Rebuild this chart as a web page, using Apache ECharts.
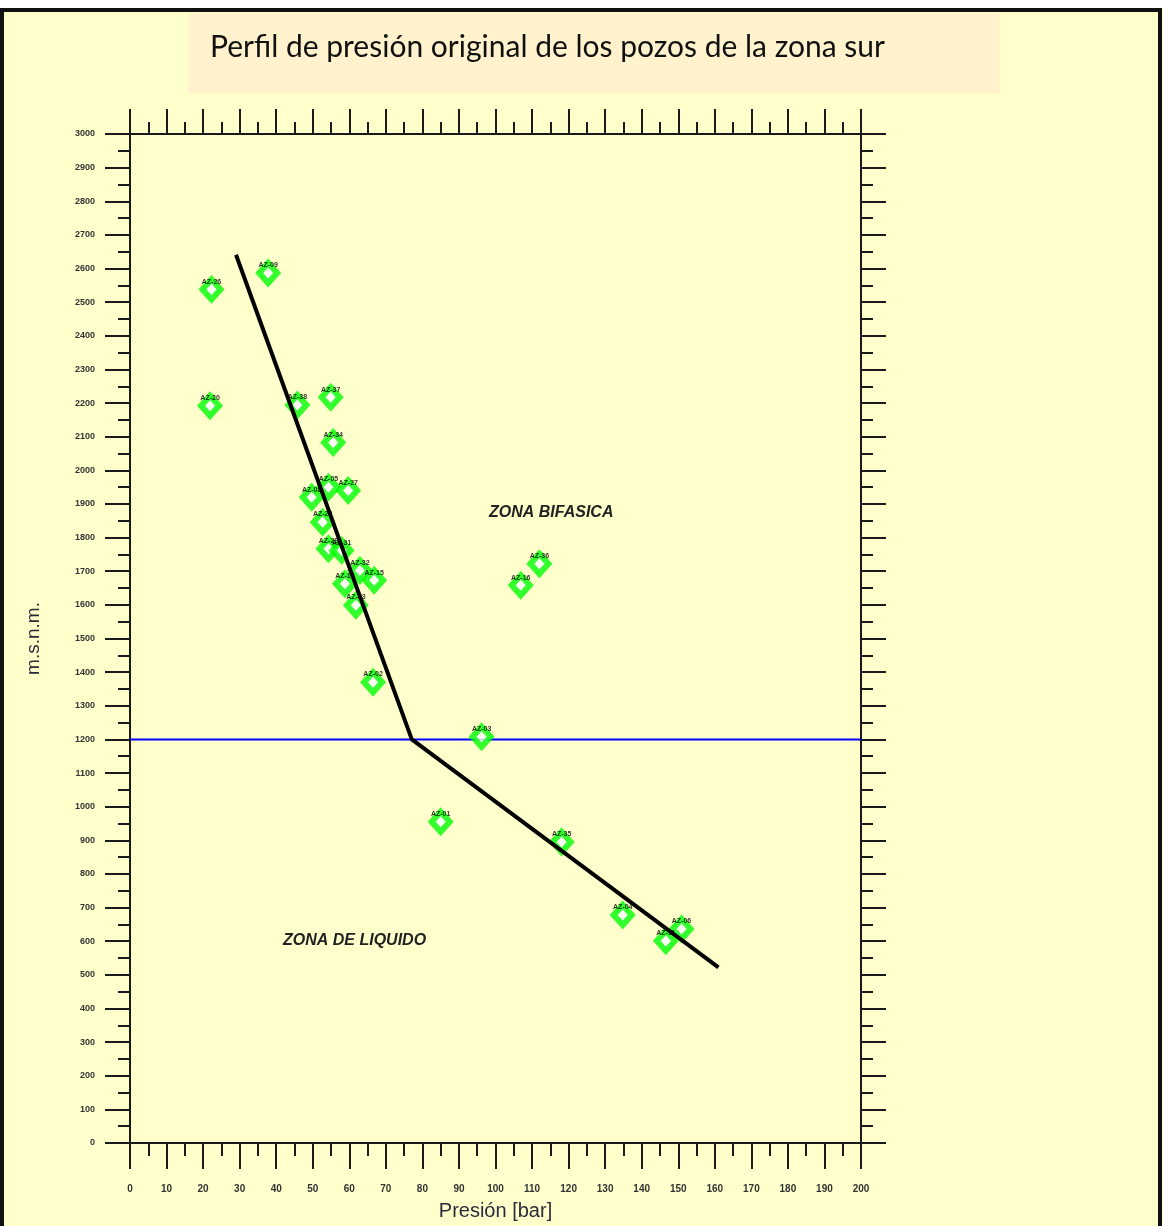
<!DOCTYPE html>
<html>
<head>
<meta charset="utf-8">
<title>Perfil de presión original</title>
<script src="https://cdn.jsdelivr.net/npm/echarts@6/dist/echarts.min.js"></script>
<style>
  html, body { margin: 0; padding: 0; background: #ffffff; }
  #chart { width: 1163px; height: 1226px; }
</style>
</head>
<body>
<div id="chart"></div>
<script>
// Well names, pressure [bar] and elevation [m.s.n.m.]
const wellNames = ['AZ-26', 'AZ-09', 'AZ-20', 'AZ-38', 'AZ-37', 'AZ-34', 'AZ-05', 'AZ-27',
  'AZ-08', 'AZ-23', 'AZ-28', 'AZ-31', 'AZ-32', 'AZ-15', 'AZ-19', 'AZ-33', 'AZ-02',
  'AZ-16', 'AZ-36', 'AZ-03', 'AZ-01', 'AZ-35', 'AZ-04', 'AZ-11', 'AZ-06'];
const wellPressure = [22.3, 37.8, 21.9, 45.8, 54.9, 55.6, 54.3, 59.7,
  49.7, 52.7, 54.3, 57.9, 62.9, 66.8, 58.8, 61.8, 66.5,
  106.9, 112.0, 96.2, 85.0, 118.1, 134.8, 146.6, 150.9];
const wellElevation = [2538, 2587, 2192, 2194, 2217, 2083, 1950, 1940,
  1920, 1846, 1767, 1762, 1702, 1673, 1663, 1599, 1370,
  1658, 1722, 1208, 955, 895, 678, 601, 636];

// Pressure gradient trend (two-phase above, liquid below)
const trendPressure = [29.0, 77.1, 161.0];
const trendElevation = [2641, 1200, 522];

// Boiling / phase boundary level
const boundaryPressure = [0, 200];
const boundaryElevation = [1200, 1200];

const xTicksMax = 200;
const yTicksMax = 3000;

const wells = wellNames.map((n, i) => ({ name: n, value: [wellPressure[i], wellElevation[i]] }));
const trend = trendPressure.map((p, i) => [p, trendElevation[i]]);
const boundary = boundaryPressure.map((p, i) => [p, boundaryElevation[i]]);

const axisLineStyle = { color: '#1a1a1a', width: 2 };
const tickLabelFont = {
  fontFamily: '"Liberation Sans Narrow", "Liberation Sans", Arial, sans-serif',
  fontWeight: 'bold', fontSize: 10, color: '#333333',
  formatter: v => String(v)
};

const chart = echarts.init(document.getElementById('chart'), null, { renderer: 'canvas' });

chart.setOption({
  backgroundColor: '#FFFFCC',
  animation: false,
  grid: { left: 130, right: 302, top: 134, bottom: 80 },
  graphic: [
    { type: 'rect', shape: { x: 0, y: 0, width: 1163, height: 8 }, style: { fill: '#ffffff' }, z: 0 },
    { type: 'rect', shape: { x: 2, y: 10, width: 1158, height: 1230 },
      style: { fill: 'none', stroke: '#111111', lineWidth: 4 }, z: 100 },
    { type: 'rect', shape: { x: 188, y: 13, width: 812, height: 81 }, style: { fill: '#FFF2CC' }, z: 1 },
    { type: 'text', left: 210, top: 32,
      style: { text: 'Perfil de presión original de los pozos de la zona sur',
        font: '30px Lato, "Open Sans", sans-serif', fill: '#111111' }, z: 2 },
    { type: 'text', left: 489, top: 505,
      style: { text: 'ZONA BIFASICA', font: 'italic bold 16px "Liberation Sans", Arial, sans-serif', fill: '#222222' }, z: 5 },
    { type: 'text', left: 283, top: 933,
      style: { text: 'ZONA DE LIQUIDO', font: 'italic bold 16px "Liberation Sans", Arial, sans-serif', fill: '#222222' }, z: 5 }
  ],
  xAxis: [
    {
      type: 'value', position: 'bottom', min: 0, max: xTicksMax, interval: 10,
      name: 'Presión [bar]', nameLocation: 'middle', nameGap: 58,
      nameTextStyle: { fontFamily: '"Liberation Sans", Arial, sans-serif', fontSize: 20, color: '#2a2a3a' },
      axisLine: { show: true, onZero: false, lineStyle: axisLineStyle },
      axisTick: { show: true, inside: false, length: 26, lineStyle: { color: '#1a1a1a', width: 2 } },
      minorTick: { show: true, splitNumber: 2, length: 13, lineStyle: { color: '#1a1a1a', width: 2 } },
      axisLabel: Object.assign({ margin: 41 }, tickLabelFont),
      splitLine: { show: false }
    },
    {
      type: 'value', position: 'top', min: 0, max: xTicksMax, interval: 10,
      axisLine: { show: true, onZero: false, lineStyle: axisLineStyle },
      axisTick: { show: true, inside: false, length: 25, lineStyle: { color: '#1a1a1a', width: 2 } },
      minorTick: { show: true, splitNumber: 2, length: 12, lineStyle: { color: '#1a1a1a', width: 2 } },
      axisLabel: { show: false },
      splitLine: { show: false }
    }
  ],
  yAxis: [
    {
      type: 'value', position: 'left', min: 0, max: yTicksMax, interval: 100,
      name: 'm.s.n.m.', nameLocation: 'middle', nameGap: 87,
      nameTextStyle: { fontFamily: '"Liberation Sans", Arial, sans-serif', fontSize: 19, color: '#2a2a3a' },
      axisLine: { show: true, onZero: false, lineStyle: axisLineStyle },
      axisTick: { show: true, inside: false, length: 25, lineStyle: { color: '#1a1a1a', width: 2 } },
      minorTick: { show: true, splitNumber: 2, length: 12, lineStyle: { color: '#1a1a1a', width: 2 } },
      axisLabel: Object.assign({ margin: 35 }, tickLabelFont, { fontSize: 9 }),
      splitLine: { show: false }
    },
    {
      type: 'value', position: 'right', min: 0, max: yTicksMax, interval: 100,
      axisLine: { show: true, onZero: false, lineStyle: axisLineStyle },
      axisTick: { show: true, inside: false, length: 25, lineStyle: { color: '#1a1a1a', width: 2 } },
      minorTick: { show: true, splitNumber: 2, length: 12, lineStyle: { color: '#1a1a1a', width: 2 } },
      axisLabel: { show: false },
      splitLine: { show: false }
    }
  ],
  series: [
    {
      name: 'Nivel 1200', type: 'line', data: boundary, xAxisIndex: 0, yAxisIndex: 0,
      showSymbol: false, symbol: 'none', z: 2,
      lineStyle: { color: '#0000FF', width: 2 }
    },
    {
      name: 'Pozos', type: 'scatter', data: wells, xAxisIndex: 0, yAxisIndex: 0, z: 3,
      symbol: 'diamond', symbolSize: [18, 20],
      itemStyle: { color: '#ffffff', borderColor: '#00FF00', borderWidth: 6 },
      label: {
        show: true, position: 'top', distance: -9, formatter: '{b}',
        fontSize: 7, fontWeight: 'bold', color: '#000000',
        fontFamily: '"Liberation Sans Narrow", Arial, sans-serif'
      }
    },
    {
      name: 'Gradiente', type: 'line', data: trend, xAxisIndex: 0, yAxisIndex: 0,
      showSymbol: false, symbol: 'none', z: 4,
      lineStyle: { color: '#000000', width: 4 }
    }
  ]
});
</script>
</body>
</html>
